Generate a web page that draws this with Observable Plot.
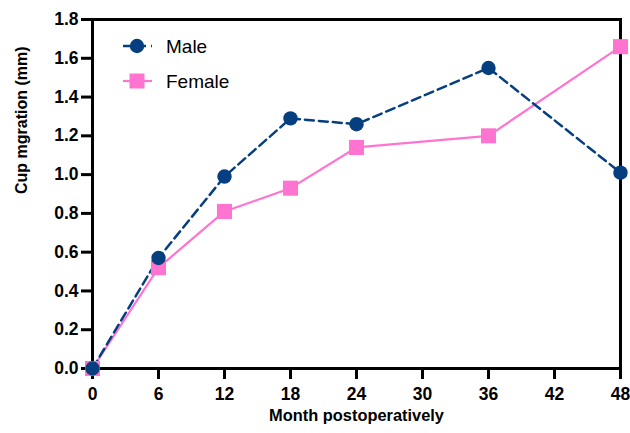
<!DOCTYPE html>
<html><head><meta charset="utf-8">
<script src="https://cdn.jsdelivr.net/npm/d3@7"></script>
<script src="https://cdn.jsdelivr.net/npm/@observablehq/plot@0.6"></script>
<style>
html,body{margin:0;padding:0;background:#fff;}
</style>
</head><body>
<div id="chart"></div>
<script>
const months = [0, 6, 12, 18, 24, 36, 48];
const maleValues = [0, 0.57, 0.99, 1.29, 1.26, 1.55, 1.01];
const femaleValues = [0, 0.52, 0.81, 0.93, 1.14, 1.20, 1.66];
const xTicks = [0, 6, 12, 18, 24, 30, 36, 42, 48];
const yTicks = [0, 0.2, 0.4, 0.6, 0.8, 1.0, 1.2, 1.4, 1.6, 1.8];
const seriesNames = ["Male", "Female"];
const xLabel = "Month postoperatively";
const yLabel = "Cup mgration (mm)";

const MALE = "#053f80";
const FEMALE = "#ff74d0";
const FONT = "Arial, 'Liberation Sans', sans-serif";

const male = months.map((m, i) => ({month: m, value: maleValues[i]}));
const female = months.map((m, i) => ({month: m, value: femaleValues[i]}));

const plot = Plot.plot({
  width: 630,
  height: 433,
  marginLeft: 92,
  marginRight: 10,
  marginTop: 19,
  marginBottom: 65,
  style: {fontFamily: FONT, color: "#000", background: "#fff", overflow: "visible"},
  x: {domain: [0, 48]},
  y: {domain: [0, 1.8]},
  marks: [
    Plot.frame({stroke: "#000", strokeWidth: 3}),
    Plot.axisX({ticks: xTicks, tickSize: 11, tickPadding: 8, strokeWidth: 3, fontSize: 17.5, fontWeight: "bold", label: null, tickFormat: d3.format("d")}),
    Plot.axisY({ticks: yTicks, tickSize: 11, tickPadding: 3, strokeWidth: 3, fontSize: 17.5, fontWeight: "bold", label: null, tickFormat: d3.format(".1f")}),
    Plot.text([xLabel], {frameAnchor: "bottom", dy: 52, fontSize: 16.4, fontWeight: "bold", fill: "#000"}),
    Plot.text([yLabel], {frameAnchor: "left", dx: -71, rotate: -90, fontSize: 16, fontWeight: "bold", fill: "#000"}),
    Plot.line(female, {x: "month", y: "value", stroke: FEMALE, strokeWidth: 2.2}),
    Plot.line(male, {x: "month", y: "value", stroke: MALE, strokeWidth: 2.5, strokeDasharray: "9,5"}),
    Plot.dot(female, {x: "month", y: "value", symbol: "square", r: 8.5, fill: FEMALE, stroke: "none"}),
    Plot.dot(male, {x: "month", y: "value", symbol: "circle", r: 7.2, fill: MALE, stroke: "none"})
  ]
});

document.getElementById("chart").appendChild(plot);

const svg = d3.select(plot);
// enforce tick label styling
svg.selectAll('g[aria-label="x-axis tick label"], g[aria-label="y-axis tick label"]')
  .attr("font-size", 17.5).attr("font-weight", "bold").style("font-size", "17.5px").style("font-weight", "bold");
svg.selectAll('g[aria-label="x-axis tick label"] text, g[aria-label="y-axis tick label"] text')
  .style("font-size", "17.5px").style("font-weight", "bold");

// legend (inside plot area, top-left)
const lg = svg.append("g").attr("font-family", FONT).attr("text-anchor", "start");
const items = [
  {name: seriesNames[0], color: MALE, dash: "9,5", sym: "circle", y: 46},
  {name: seriesNames[1], color: FEMALE, dash: null, sym: "square", y: 81}
];
items.forEach(it => {
  lg.append("line").attr("x1", 123).attr("x2", 152).attr("y1", it.y).attr("y2", it.y)
    .attr("stroke", it.color).attr("stroke-width", it.sym === "circle" ? 2.5 : 2.2)
    .attr("stroke-dasharray", it.dash);
  if (it.sym === "circle") {
    lg.append("circle").attr("cx", 137).attr("cy", it.y).attr("r", 7.2).attr("fill", it.color);
  } else {
    lg.append("rect").attr("x", 137 - 7.5).attr("y", it.y - 7.5).attr("width", 15).attr("height", 15).attr("fill", it.color);
  }
  lg.append("text").attr("x", 166).attr("y", it.y + 7).attr("font-size", 19)
    .attr("text-anchor", "start").attr("fill", "#000").text(it.name);
});
</script>
</body></html>
